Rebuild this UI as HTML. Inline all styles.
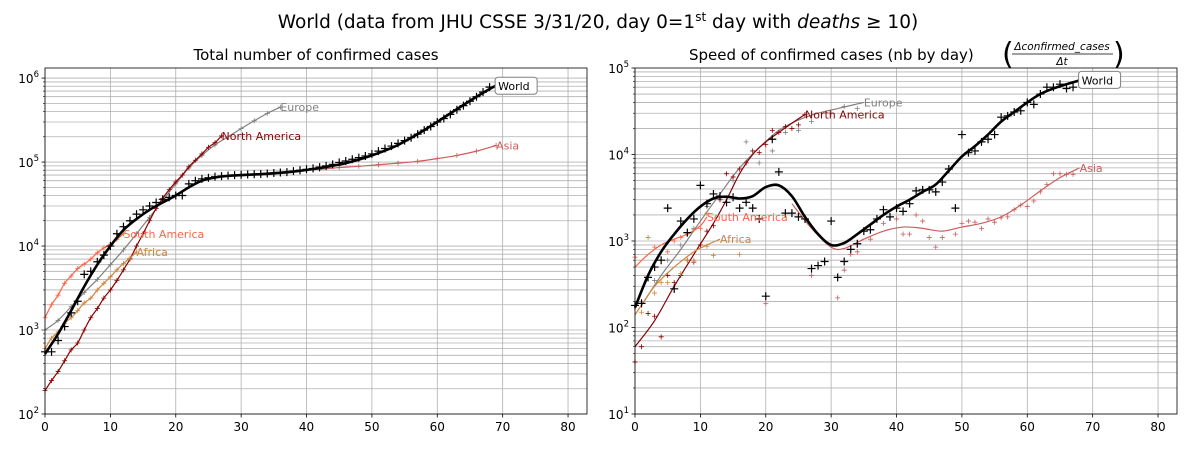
<!DOCTYPE html>
<html><head><meta charset="utf-8"><style>
html,body{margin:0;padding:0;background:#fff;}
svg{display:block;font-family:"DejaVu Sans","Liberation Sans",sans-serif;}
</style></head><body>
<svg id="fig" width="1197" height="450" viewBox="0 0 1197 450">
<text x="598" y="28" text-anchor="middle" font-size="18.5">World (data from JHU CSSE 3/31/20, day 0=1<tspan font-size="12" dy="-7">st</tspan><tspan dy="7"> day with </tspan><tspan font-style="italic">deaths</tspan> ≥ 10)</text>
<text x="316" y="60" text-anchor="middle" font-size="15">Total number of confirmed cases</text>
<g>
<text x="689" y="60" font-size="15">Speed of confirmed cases (nb by day)</text>
<text x="1002" y="64" font-size="30">(</text>
<text x="1062" y="50" text-anchor="middle" font-size="10.5" font-style="italic">Δconfirmed_cases</text>
<line x1="1012" y1="54" x2="1113" y2="54" stroke="#000" stroke-width="0.8"/>
<text x="1062" y="65" text-anchor="middle" font-size="10.5" font-style="italic">Δt</text>
<text x="1113" y="64" font-size="30">)</text>
</g>
<g id="left"></g>
<g id="right"></g>
</svg>
<script>
// ---------- LEFT: cumulative cases ----------
const worldDays = [0,1,2,3,4,5,6,7,8,9,10,11,12,13,14,15,16,17,18,19,20,21,22,23,24,25,26,27,28,29,30,31,32,33,34,35,36,37,38,39,40,41,42,43,44,45,46,47,48,49,50,51,52,53,54,55,56,57,58,59,60,61,62,63,64,65,66,67,68];
const worldCases = [550,550,750,1100,1600,2200,4600,5000,6500,7800,10000,14000,17000,20000,24000,27000,30000,33000,36000,38000,40000,40000,55000,60000,63000,65000,67000,68000,69000,70000,70500,71000,71500,72000,73000,74000,75000,76000,78000,80000,82000,84000,87000,90000,94000,99000,103000,108000,113000,118000,125000,135000,145000,155000,167000,180000,195000,215000,240000,265000,300000,330000,370000,420000,470000,530000,600000,680000,780000];
const worldCasesFitDays = [0,2,4,6,8,10,12,14,16,18,20,22,24,26,28,30,34,38,42,46,50,54,58,62,66,69];
const worldCasesFit = [520,900,1700,3300,6000,10000,15500,21000,27000,33000,40000,50000,60000,65500,68500,70000,72500,77000,85000,97000,120000,160000,240000,380000,600000,820000];
const europeDays = [0,2,4,6,8,10,12,14,16,18,20,22,24,26,28,30,32,34,36];
const europeCases = [1000,1300,1900,2800,4000,6000,9000,14000,22000,35000,55000,85000,120000,160000,200000,250000,310000,380000,450000];
const naDays = [0,1,2,3,4,5,6,7,8,9,10,11,12,13,14,15,16,17,18,19,20,21,22,23,24,25,26,27];
const naCases = [190,250,320,430,580,700,1000,1400,1800,2400,3000,3900,5200,7000,10000,14000,20000,28000,37000,47000,58000,70000,88000,105000,125000,150000,170000,205000];
const saDays = [0,1,2,3,4,5,6,7,8,9,10,11,12];
const saCases = [1400,2000,2600,3600,4400,5400,6100,7000,8300,9500,10500,12000,14000];
const afDays = [0,1,2,3,4,5,6,7,8,9,10,11,12,13,14];
const afCases = [600,800,950,1200,1400,1700,2100,2400,3000,3600,4300,5200,6200,7200,8500];
const asiaDays = [30,33,36,39,42,45,48,51,54,57,60,63,66,69];
const asiaCases = [71000,73000,76000,79000,82000,86000,89000,93000,97000,102000,110000,120000,135000,158000];
const xTicks = [0,10,20,30,40,50,60,70,80];

// ---------- RIGHT: speed ----------
const worldSpeed = [180,190,380,500,600,2400,280,1700,1250,1800,4400,2700,3500,3300,2800,3200,2400,2800,2400,1800,230,15000,6300,2100,2100,1900,1800,480,520,580,1700,380,580,800,930,1300,1350,1800,2300,1900,2400,2200,2700,3800,3900,3900,3700,4800,6800,2400,17000,10500,11000,14000,15000,17000,27000,28000,31000,32000,40000,38000,50000,60000,60000,65000,58000,60000];
const worldSpeedFitDays = [0,2,4,6,8,10,12,14,16,18,20,22,24,26,28,30,32,34,36,38,40,42,44,46,48,50,52,54,56,58,60,62,64,66,68];
const worldSpeedFit = [170,400,750,1200,1800,2500,3100,3250,3100,3300,4200,4400,3300,1900,1200,900,950,1200,1550,2000,2500,3000,3700,4500,6500,9500,12500,17000,24000,31000,40000,50000,58000,65000,72000];
const euSpDays = [1,4,7,10,13,16,19,22,25,28,31,35];
const euSp = [180,400,800,1700,3500,7000,12000,19000,25000,30000,34000,40000];
const euSpPts = [200,350,600,900,1400,2500,3000,5000,14000,8000,11000,18000,19000,24000,30000,36000,34000];
const euSpPtsDays = [1,3,5,7,9,11,13,15,17,19,21,23,25,27,30,32,34];
const naSpDays = [0,3,6,9,12,14,16,18,20,22,24,26];
const naSp = [60,120,300,700,1600,3000,6000,10000,14000,18000,23000,29000];
const naSpPtsDays = [0,1,2,3,4,5,6,7,8,9,10,11,12,13,14,15,16,17,18,19,20,21,22,23,24,25,26];
const naSpPts = [40,60,145,135,78,400,330,400,600,570,900,1300,1500,3000,6000,5500,6800,8000,11000,10500,13000,19000,18000,21000,20000,22000,29000];
const saSpDays = [0,2,4,6,8,10,11];
const saSp = [500,700,900,1050,1200,1500,1900];
const saSpPts = [650,1100,850,750,1000,1100,1200,1350,1400,2100];
const saSpPtsDays = [0,2,3,5,6,7,8,9,10,11];
const afSpDays = [0,3,6,9,11,13];
const afSp = [140,300,500,750,900,1050];
const afSpPts = [150,250,330,330,420,600,600,870,680,700];
const afSpPtsDays = [1,3,4,5,7,8,9,11,12,16];
const asiaSpDays = [24,27,30,32,35,38,41,44,47,50,53,56,59,62,65,68];
const asiaSp = [2700,1400,850,820,1050,1300,1450,1400,1300,1450,1600,1900,2600,3800,5400,7000];
const asiaSpPtsDays = [20,27,31,32,33,34,36,38,40,41,42,43,44,45,46,47,49,50,51,52,53,54,55,56,57,58,59,60,61,62,63,64,65,66,67];
const asiaSpPts = [190,400,220,460,700,750,1050,1600,1800,1200,1200,2000,1700,1100,850,1100,1200,1600,1700,1650,1400,1800,1650,1850,1900,2300,2600,2500,2900,3700,4500,6000,6000,5900,5900];

const NS = "http://www.w3.org/2000/svg";
function mk(parent, tag, attrs){const e=document.createElementNS(NS,tag);for(const k in attrs)e.setAttribute(k,attrs[k]);parent.appendChild(e);return e;}

function makeAxes(g, L, R, T, B, xmax, ymin, ymax, nameP){
  const sx = d => L + d/xmax*(R-L);
  const sy = v => B - (Math.log10(v)-ymin)/(ymax-ymin)*(B-T);
  for(let p=Math.floor(ymin); p<ymax; p++){
    for(let m=1;m<10;m++){
      const v=m*Math.pow(10,p); const lv=Math.log10(v);
      if(lv<ymin-1e-9||lv>ymax) continue;
      const y=sy(v);
      const gl=mk(g,'line',{x1:L,x2:R,y1:y,y2:y,stroke:'#b0b0b0','stroke-width':0.8});
      
      
      mk(g,'line',{x1:L-(m==1?3.5:2),x2:L,y1:y,y2:y,stroke:'#000','stroke-width':m==1?0.8:0.6});
      if(m==1){
        const t=mk(g,'text',{x:L-6,y:y+5,'text-anchor':'end','font-size':12});
        
        
        t.innerHTML='10<tspan font-size="8.5" dy="-6">'+p+'</tspan>';
      }
    }
  }
  const pTop=Math.ceil(ymax-1e-9);
  if(Math.abs(pTop-ymax)<0.02){
    const y=sy(Math.pow(10,pTop));
    mk(g,'line',{x1:L-3.5,x2:L,y1:y,y2:y,stroke:'#000','stroke-width':0.8});
    const t=mk(g,'text',{x:L-6,y:y+5,'text-anchor':'end','font-size':12});
    
    
    t.innerHTML='10<tspan font-size="8.5" dy="-6">'+pTop+'</tspan>';
  }
  xTicks.forEach(d=>{
    const x=sx(d);
    const gl=mk(g,'line',{x1:x,x2:x,y1:T,y2:B,stroke:'#b0b0b0','stroke-width':0.8});
    
    
    mk(g,'line',{x1:x,x2:x,y1:B,y2:B+3.5,stroke:'#000','stroke-width':0.8});
    const t=mk(g,'text',{x:x,y:B+17,'text-anchor':'middle','font-size':12});
    
    
    t.textContent=d;
  });
  return {sx,sy,frame:()=>{const r=mk(g,'rect',{x:L,y:T,width:R-L,height:B-T,fill:'none',stroke:'#000','stroke-width':0.8});
    
    }};
}

function curvePath(ax, days, vals){
  const P=days.map((d,i)=>[ax.sx(d),ax.sy(vals[i])]);
  let s='M'+P[0][0]+','+P[0][1];
  for(let i=0;i<P.length-1;i++){
    const p0=P[Math.max(0,i-1)],p1=P[i],p2=P[i+1],p3=P[Math.min(P.length-1,i+2)];
    const c1=[p1[0]+(p2[0]-p0[0])/6,p1[1]+(p2[1]-p0[1])/6];
    const c2=[p2[0]-(p3[0]-p1[0])/6,p2[1]-(p3[1]-p1[1])/6];
    s+=' C'+c1+' '+c2+' '+p2;
  }
  return s;
}
function drawLine(g, ax, days, vals, color, w, name){
  const p=mk(g,'path',{d:curvePath(ax,days,vals),fill:'none',stroke:color,'stroke-width':w,'stroke-linejoin':'round'});
  
  
}
function drawMarks(g, ax, days, vals, color, sz, w, name){
  const gg=mk(g,'g',{stroke:color,'stroke-width':w});
  
  
  days.forEach((d,i)=>{
    const x=ax.sx(d), y=ax.sy(vals[i]);
    mk(gg,'path',{d:'M'+(x-sz)+','+y+'H'+(x+sz)+'M'+x+','+(y-sz)+'V'+(y+sz)});
  });
}
function label(g, ax, d, v, txt, color, name, box){
  const x=ax.sx(d), y=ax.sy(v);
  if(box){
    const r=mk(g,'rect',{x:x-1,y:y-9,width:42,height:17,rx:3,fill:'#fff',stroke:'#808080','stroke-width':1});
    
    
  }
  const t=mk(g,'text',{x:x+(box?2:0),y:y+4,'font-size':11,fill:color});
  
  
  t.textContent=txt;
}
const idx = n => Array.from({length:n},(_,i)=>i);

(function(){
  const g=document.getElementById('left');
  const ax=makeAxes(g,45,587,68,414,82.9,2,6.12,'left');
  const clip=mk(g,'g',{});
  drawLine(clip,ax,europeDays,europeCases,'#808080',1.2,'europe-cases-line');
  drawMarks(clip,ax,europeDays,europeCases,'#808080',2.5,0.8,'europe-cases-markers');
  drawLine(clip,ax,naDays,naCases,'#8b0000',1.2,'north-america-cases-line');
  drawMarks(clip,ax,naDays,naCases,'#8b0000',2.5,0.8,'north-america-cases-markers');
  drawLine(clip,ax,saDays,saCases,'#ff6347',1.2,'south-america-cases-line');
  drawMarks(clip,ax,saDays,saCases,'#ff6347',2.5,0.8,'south-america-cases-markers');
  drawLine(clip,ax,afDays,afCases,'#cd853f',1.2,'africa-cases-line');
  drawMarks(clip,ax,afDays,afCases,'#cd853f',2.5,0.8,'africa-cases-markers');
  drawLine(clip,ax,asiaDays,asiaCases,'#cd5c5c',1.2,'asia-cases-line');
  drawMarks(clip,ax,asiaDays,asiaCases,'#cd5c5c',2.5,0.8,'asia-cases-markers');
  drawLine(clip,ax,worldCasesFitDays,worldCasesFit,'#000',2.6,'world-cases-line');
  drawMarks(clip,ax,worldDays,worldCases,'#000',4,1.2,'world-cases-markers');
  label(g,ax,36,450000,'Europe','#808080','europe-label');
  label(g,ax,27,205000,'North America','#8b0000','north-america-label');
  label(g,ax,12,14000,'South America','#ff6347','south-america-label');
  label(g,ax,14,8500,'Africa','#cd853f','africa-label');
  label(g,ax,69,158000,'Asia','#cd5c5c','asia-label');
  label(g,ax,69,800000,'World','#000','world-label',true);
  ax.frame();
})();

(function(){
  const g=document.getElementById('right');
  const ax=makeAxes(g,635,1177,68,414,82.9,1,5,'right');
  const c=mk(g,'g',{});
  drawLine(c,ax,euSpDays,euSp,'#808080',1.2,'europe-speed-line');
  drawMarks(c,ax,euSpPtsDays,euSpPts,'#808080',2.5,0.8,'europe-speed-markers');
  drawLine(c,ax,naSpDays,naSp,'#8b0000',1.2,'north-america-speed-line');
  drawMarks(c,ax,naSpPtsDays,naSpPts,'#8b0000',2.5,0.8,'north-america-speed-markers');
  drawLine(c,ax,saSpDays,saSp,'#ff6347',1.2,'south-america-speed-line');
  drawMarks(c,ax,saSpPtsDays,saSpPts,'#ff6347',2.5,0.8,'south-america-speed-markers');
  drawLine(c,ax,afSpDays,afSp,'#cd853f',1.2,'africa-speed-line');
  drawMarks(c,ax,afSpPtsDays,afSpPts,'#cd853f',2.5,0.8,'africa-speed-markers');
  drawLine(c,ax,asiaSpDays,asiaSp,'#cd5c5c',1.2,'asia-speed-line');
  drawMarks(c,ax,asiaSpPtsDays,asiaSpPts,'#cd5c5c',2.5,0.8,'asia-speed-markers');
  drawLine(c,ax,worldSpeedFitDays,worldSpeedFit,'#000',2.6,'world-speed-line');
  drawMarks(c,ax,idx(worldSpeed.length),worldSpeed,'#000',4,1.2,'world-speed-markers');
  label(g,ax,35,40000,'Europe','#808080','europe-speed-label');
  label(g,ax,26,29000,'North America','#8b0000','north-america-speed-label');
  label(g,ax,11,1900,'South America','#ff6347','south-america-speed-label');
  label(g,ax,13,1050,'Africa','#cd853f','africa-speed-label');
  label(g,ax,68,7000,'Asia','#cd5c5c','asia-speed-label');
  label(g,ax,68,72000,'World','#000','world-speed-label',true);
  ax.frame();
})();
</script>
</body></html>
